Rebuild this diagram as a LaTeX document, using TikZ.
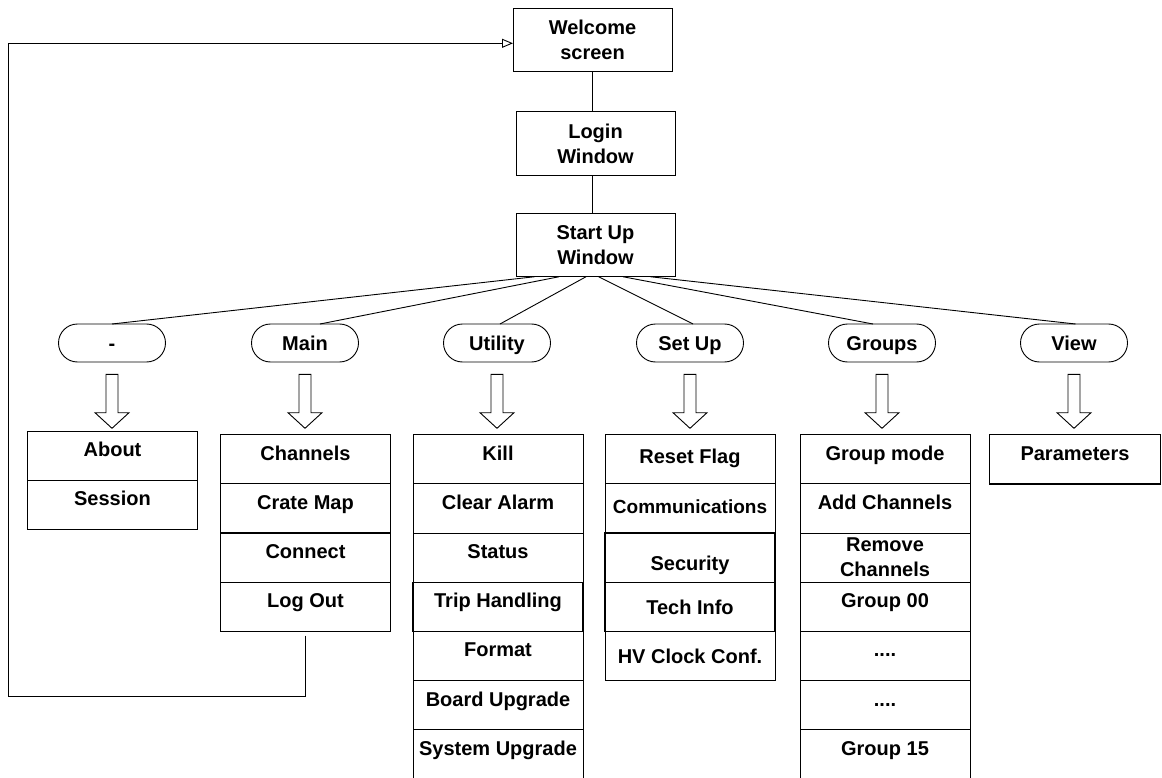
\documentclass[tikz,border=0pt]{standalone}
\usepackage{fontspec}
\setmainfont{Liberation Sans}
\usetikzlibrary{arrows.meta,shapes.misc,positioning,calc}
\begin{document}
\begin{tikzpicture}[x=1pt,y=-1pt,
  every node/.style={font=\bfseries\fontsize{20}{25}\selectfont, inner sep=0pt, outer sep=0pt},
  ln/.style={line width=0.9pt, draw=black},
  topbox/.style={ln, minimum width=159pt, minimum height=63.5pt, align=center},
  pill/.style={ln, rounded rectangle, minimum width=107pt, minimum height=38pt, text height=14.6pt, text depth=0pt},
  menubase/.style={ln, minimum width=170pt, minimum height=49.2pt, anchor=north},
  menurow/.style={menubase, text height=20pt, text depth=#1},
  menurow/.default=18.4pt,
  hv/.style={line width=1.3pt},
  conn/.style={ln},
  hollowarrow/.pic={\draw[ln, line join=miter] (-6,0) -- (-6,38.4) -- (-17,38.4) -- (0,54) -- (17,38.4) -- (6,38.4) -- (6,0) -- cycle;}
]
\useasboundingbox (0,0) rectangle (1162,778);
\clip (0,0) rectangle (1162,778);

% top boxes
\node[topbox] (welcome) at (592.5,40) {Welcome\\screen};
\node[topbox] (login) at (595.5,143.5) {Login\\Window};
\node[topbox] (startup) at (595.5,245) {Start Up\\Window};

% menu pills
\node[pill] (p1) at (112,343) {-};
\node[pill] (p2) at (305,343) {Main};
\node[pill] (p3) at (497,343) {Utility};
\node[pill] (p4) at (690,343) {Set Up};
\node[pill] (p5) at (882,343) {Groups};
\node[pill] (p6) at (1074,343) {View};

% column "-"
\node[menurow] (a1) at (112.5,431) {About};
\node[menurow, hv, below=0pt of a1] (a2) {Session};

% column Main
\node[menurow] (m1) at (305.5,434.7) {Channels};
\node[menurow, below=0pt of m1] (m2) {Crate Map};
\node[menurow, hv, below=0pt of m2] (m3) {Connect};
\node[menurow, below=0pt of m3] (m4) {Log Out};

% column Utility
\node[menurow] (u1) at (498,434.7) {Kill};
\node[menurow, below=0pt of u1] (u2) {Clear Alarm};
\node[menurow, below=0pt of u2] (u3) {Status};
\node[menurow, hv, below=0pt of u3] (u4) {Trip Handling};
\node[menurow, below=0pt of u4] (u5) {Format};
\node[menurow, below=0pt of u5] (u6) {Board Upgrade};
\node[menurow, below=0pt of u6] (u7) {System Upgrade};

% column Set Up
\node[menurow=12.4pt] (s1) at (690,434.7) {Reset Flag};
\node[menurow=9.2pt, font=\bfseries\fontsize{19}{25}\selectfont, below=0pt of s1] (s2) {Communications};
\node[menurow, hv, text height=25.6pt, text depth=0pt, below=0pt of s2] (s3) {Security};
\node[menurow=5.4pt, hv, below=0pt of s3] (s4) {Tech Info};
\node[menurow=5.4pt, below=0pt of s4] (s5) {HV Clock Conf.};

% column Groups
\node[menurow] (g1) at (885,434.7) {Group mode};
\node[menurow, below=0pt of g1] (g2) {Add Channels};
\node[menubase, align=center, below=0pt of g2] (g3) {Remove\\Channels};
\node[menurow, below=0pt of g3] (g4) {Group 00};
\node[menurow, below=0pt of g4] (g5) {....};
\node[menurow, below=0pt of g5] (g6) {....};
\node[menurow, below=0pt of g6] (g7) {Group 15};

% column View
\node[menurow, hv, minimum width=170.5pt] (v1) at (1075,434.7) {Parameters};

% connectors
\draw[conn] (welcome.south) -- (welcome.south |- login.north);
\draw[conn] (welcome.south |- login.south) -- (welcome.south |- startup.north);
\draw[conn] ([xshift=-61pt]startup.south) -- (p1.north);
\draw[conn] ([xshift=-36.5pt]startup.south) -- ([xshift=15pt]p2.north);
\draw[conn] ([xshift=-9.5pt]startup.south) -- ([xshift=3pt]p3.north);
\draw[conn] ([xshift=3pt]startup.south) -- ([xshift=3pt]p4.north);
\draw[conn] ([xshift=27.5pt]startup.south) -- ([xshift=-9pt]p5.north);
\draw[conn] ([xshift=55pt]startup.south) -- ([xshift=1.5pt]p6.north);

% hollow arrows
\pic at ([yshift=-12.3pt]p1.south) {hollowarrow};
\pic at ([yshift=-12.3pt]p2.south) {hollowarrow};
\pic at ([yshift=-12.3pt]p3.south) {hollowarrow};
\pic at ([yshift=-12.3pt]p4.south) {hollowarrow};
\pic at ([yshift=-12.3pt]p5.south) {hollowarrow};
\pic at ([yshift=-12.3pt]p6.south) {hollowarrow};

% return line
\coordinate (retcorner) at (8.5,696);
\draw[conn, -{Triangle[open,length=11pt,width=9pt]}] ([yshift=-4pt]m4.south) |- (retcorner) |- ([yshift=-3.3pt]welcome.west);
\end{tikzpicture}
\end{document}
